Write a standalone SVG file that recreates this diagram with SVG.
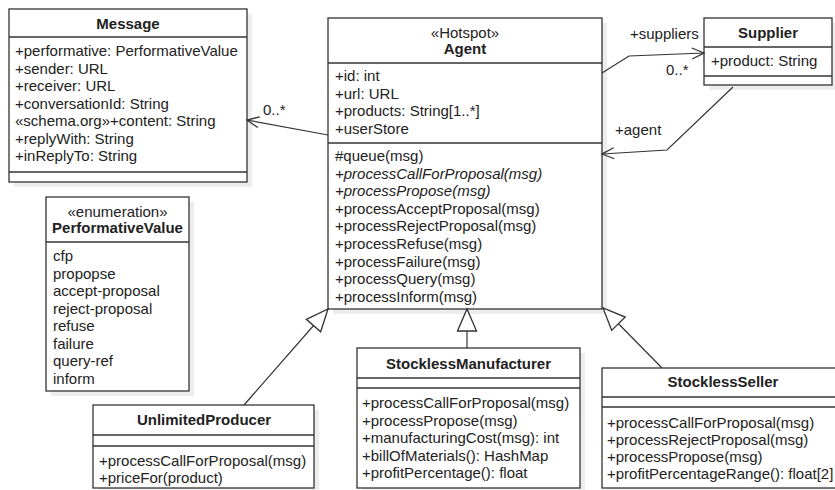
<svg xmlns="http://www.w3.org/2000/svg" width="835" height="490" viewBox="0 0 835 490">
<defs>
<style>
text{font-family:"Liberation Sans",Arial,sans-serif;font-size:15px;fill:#222}
.t{font-weight:bold;text-anchor:middle}
.c{text-anchor:middle}
.i{font-style:italic}
.box{fill:#fff;stroke:#333;stroke-width:1.3}
.sh{fill:#ededed}
.ln{stroke:#333;stroke-width:1.3;fill:none}
.e{fill:none;stroke:#333;stroke-width:1.2}
</style>
<marker id="open" markerUnits="userSpaceOnUse" markerWidth="16" markerHeight="14" refX="13" refY="7" orient="auto">
<path d="M1,1.5 L13,7 L1,12.5" fill="none" stroke="#333" stroke-width="1.3"/>
</marker>
<marker id="gen" markerUnits="userSpaceOnUse" markerWidth="26" markerHeight="22" refX="24" refY="11" orient="auto">
<path d="M2,1.5 L24,11 L2,20.5 Z" fill="#fff" stroke="#333" stroke-width="1.3"/>
</marker>
</defs>

<g id="message">
<rect class="sh" x="14" y="14" width="238" height="173"/>
<rect class="box" x="9" y="9" width="238" height="173"/>
<line class="ln" x1="9" y1="37" x2="247" y2="37"/>
<line class="ln" x1="9" y1="172" x2="247" y2="172"/>
<text class="t" x="128" y="29">Message</text>
<text x="15" y="56">+performative: PerformativeValue</text>
<text x="15" y="73.5">+sender: URL</text>
<text x="15" y="91">+receiver: URL</text>
<text x="15" y="108.5">+conversationId: String</text>
<text x="15" y="126">«schema.org»+content: String</text>
<text x="15" y="143.5">+replyWith: String</text>
<text x="15" y="161">+inReplyTo: String</text>
</g>

<g id="agent">
<rect class="sh" x="333" y="23" width="274" height="291"/>
<rect class="box" x="328" y="18" width="274" height="291"/>
<line class="ln" x1="328" y1="63" x2="602" y2="63"/>
<line class="ln" x1="328" y1="143" x2="602" y2="143"/>
<text class="c" x="465" y="37.5">«Hotspot»</text>
<text class="t" x="465" y="54">Agent</text>
<text x="335" y="81">+id: int</text>
<text x="335" y="98.5">+url: URL</text>
<text x="335" y="116">+products: String[1..*]</text>
<text x="335" y="133.5">+userStore</text>
<text x="335" y="161">#queue(msg)</text>
<text class="i" x="335" y="178.6">+processCallForProposal(msg)</text>
<text class="i" x="335" y="196.2">+processPropose(msg)</text>
<text x="335" y="213.8">+processAcceptProposal(msg)</text>
<text x="335" y="231.4">+processRejectProposal(msg)</text>
<text x="335" y="249">+processRefuse(msg)</text>
<text x="335" y="266.6">+processFailure(msg)</text>
<text x="335" y="284.2">+processQuery(msg)</text>
<text x="335" y="301.8">+processInform(msg)</text>
</g>

<g id="supplier">
<rect class="sh" x="709" y="23" width="128" height="67"/>
<rect class="box" x="704" y="18" width="128" height="67"/>
<line class="ln" x1="704" y1="47" x2="832" y2="47"/>
<line class="ln" x1="704" y1="76" x2="832" y2="76"/>
<text class="t" x="768" y="38">Supplier</text>
<text x="711" y="66">+product: String</text>
</g>

<g id="performativevalue">
<rect class="sh" x="51" y="202" width="143" height="194"/>
<rect class="box" x="46" y="197" width="143" height="194"/>
<line class="ln" x1="46" y1="242" x2="189" y2="242"/>
<text class="c" x="117.5" y="217">«enumeration»</text>
<text class="t" x="117.5" y="233">PerformativeValue</text>
<text x="53" y="261">cfp</text>
<text x="53" y="278.5">propopse</text>
<text x="53" y="296">accept-proposal</text>
<text x="53" y="313.5">reject-proposal</text>
<text x="53" y="331">refuse</text>
<text x="53" y="348.5">failure</text>
<text x="53" y="366">query-ref</text>
<text x="53" y="383.5">inform</text>
</g>

<g id="unlimitedproducer">
<rect class="sh" x="98" y="410" width="221" height="85"/>
<rect class="box" x="93" y="405" width="221" height="83"/>
<line class="ln" x1="93" y1="435" x2="314" y2="435"/>
<line class="ln" x1="93" y1="446" x2="314" y2="446"/>
<text class="t" x="204" y="425">UnlimitedProducer</text>
<text x="99" y="466">+processCallForProposal(msg)</text>
<text x="99" y="483">+priceFor(product)</text>
</g>

<g id="stocklessmanufacturer">
<rect class="sh" x="362" y="353" width="223" height="142"/>
<rect class="box" x="357" y="348" width="223" height="140"/>
<line class="ln" x1="357" y1="378" x2="580" y2="378"/>
<line class="ln" x1="357" y1="388" x2="580" y2="388"/>
<text class="t" x="468.5" y="369">StocklessManufacturer</text>
<text x="362" y="408">+processCallForProposal(msg)</text>
<text x="362" y="425.5">+processPropose(msg)</text>
<text x="362" y="443">+manufacturingCost(msg): int</text>
<text x="362" y="460.5">+billOfMaterials(): HashMap</text>
<text x="362" y="478">+profitPercentage(): float</text>
</g>

<g id="stocklessseller">
<rect class="sh" x="607" y="373" width="240" height="122"/>
<rect class="box" x="602" y="368" width="242" height="120"/>
<line class="ln" x1="602" y1="397" x2="844" y2="397"/>
<line class="ln" x1="602" y1="407" x2="844" y2="407"/>
<text class="t" x="723" y="387">StocklessSeller</text>
<text x="607" y="428">+processCallForProposal(msg)</text>
<text x="607" y="445">+processRejectProposal(msg)</text>
<text x="607" y="462">+processPropose(msg)</text>
<text x="607" y="479">+profitPercentageRange(): float[2]</text>
</g>

<g id="connectors">
<polyline class="e" points="328,135 247,120" marker-end="url(#open)"/>
<text x="263" y="115">0..*</text>
<polyline class="e" points="602,73 629,56 704,53" marker-end="url(#open)"/>
<text x="630" y="39">+suppliers</text>
<text x="666" y="75">0..*</text>
<polyline class="e" points="733,87 667,150 602,154" marker-end="url(#open)"/>
<text x="615" y="134.5">+agent</text>
<line class="e" x1="244" y1="405" x2="328" y2="309" marker-end="url(#gen)"/>
<line class="e" x1="467" y1="348" x2="467" y2="309" marker-end="url(#gen)"/>
<line class="e" x1="662" y1="368" x2="603" y2="308" marker-end="url(#gen)"/>
</g>
</svg>
